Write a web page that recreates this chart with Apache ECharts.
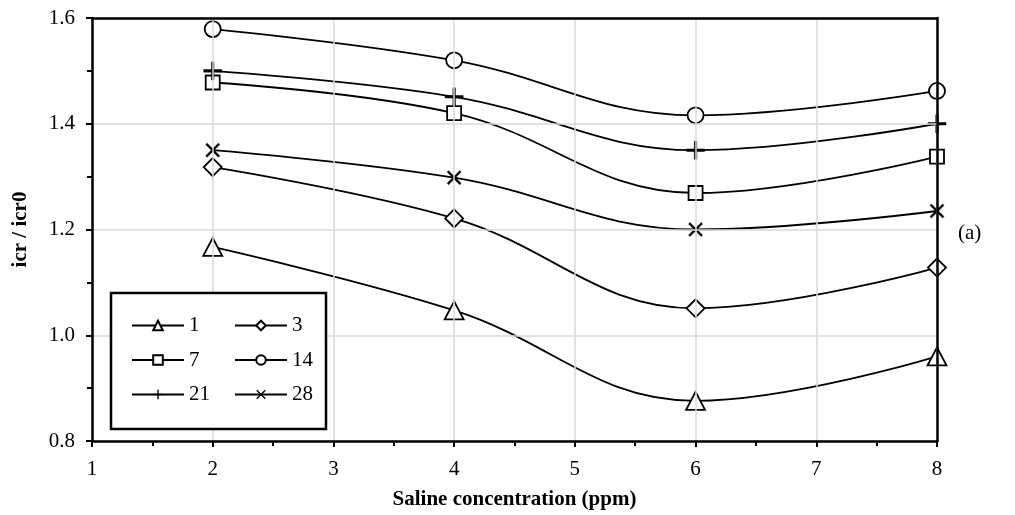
<!DOCTYPE html>
<html>
<head>
<meta charset="utf-8">
<title>icr / icr0</title>
<script src="https://cdn.jsdelivr.net/npm/echarts/dist/echarts.min.js"></script>
<style>
	html, body { margin:0; padding:0; background:#fff; }
	#main { width:1015px; height:515px; }
</style>
</head>
<body>
<div id="main"></div>
<script>
// data
var xVals = [2, 4, 6, 8];
var names = ['1', '3', '7', '14', '21', '28'];
var s1  = [1.167, 1.047, 0.876, 0.960];
var s3  = [1.318, 1.221, 1.051, 1.128];
var s7  = [1.478, 1.420, 1.269, 1.338];
var s14 = [1.579, 1.520, 1.416, 1.462];
var s21 = [1.500, 1.451, 1.350, 1.400];
var s28 = [1.350, 1.298, 1.200, 1.235];
var xTicks = [1, 8, 1];      // min, max, interval
var yTicks = [0.8, 1.6, 0.2];

var FONT = '"Liberation Serif", "Times New Roman", serif';

// hollow / cross markers
var plusPath = 'path://M4.3,0h1.4v10h-1.4zM0,4.3h10v1.4h-10z';
var crossPath = 'path://M0,1L1,0L10,9L9,10ZM9,0L10,1L1,10L0,9Z';

function pairs(ys){
	var out = [];
	for(var i = 0; i < xVals.length; i++){
		out.push([xVals[i], ys[i]]);
	}
	return out;
}

function mkSeries(name, ys, symbol, size, hollow){
	return {
		name: name,
		type: 'line',
		data: pairs(ys),
		smooth: 0.4,
		symbol: symbol,
		symbolSize: size,
		showAllSymbol: true,
		lineStyle: { color: '#000', width: 1.8 },
		itemStyle: hollow ?
			{ color: '#fff', borderColor: '#000', borderWidth: 1.8 } :
			{ color: '#000', borderColor: '#000', borderWidth: 0.5 },
		emphasis: { disabled: true },
		z: 2
	};
}

// plain axis used only as the top / right frame line
function frameAxis(pos, range){
	return {
		type: 'value',
		position: pos,
		min: range[0], max: range[1], interval: range[2],
		axisLine: { show: true, onZero: false, lineStyle: { color: '#000', width: 2.5 } },
		axisTick: { show: false },
		axisLabel: { show: false },
		splitLine: { show: false },
		z: 3
	};
}

var myChart = echarts.init(document.getElementById('main'), null, { renderer: 'canvas' });

var legendText = { fontFamily: FONT, fontSize: 21, color: '#000' };

option = {
	backgroundColor: '#fff',
	animation: false,
	textStyle: { fontFamily: FONT },
	grid: {
		left: 92, right: 78, top: 18, bottom: 74
	},
	// two columns for the legend
	legend: [
		{
			data: ['1', '7', { name: '21', itemStyle: { borderWidth: 0 } }],
			orient: 'vertical',
			left: 131, top: 315,
			padding: 0,
			itemWidth: 52, itemHeight: 12,
			itemGap: 13.5,
			textStyle: legendText,
			selectedMode: false,
			z: 6
		},
		{
			data: ['3', '14', { name: '28', itemStyle: { borderWidth: 0 } }],
			orient: 'vertical',
			left: 234, top: 315,
			padding: 0,
			itemWidth: 52, itemHeight: 12,
			itemGap: 13.5,
			textStyle: legendText,
			selectedMode: false,
			z: 6
		}
	],
	xAxis: [
		{
			type: 'value',
			min: xTicks[0], max: xTicks[1], interval: xTicks[2],
			name: 'Saline concentration (ppm)',
			nameLocation: 'middle',
			nameGap: 48,
			nameTextStyle: { fontFamily: FONT, fontSize: 21, fontWeight: 'bold', color: '#000' },
			axisLine: { show: true, onZero: false, lineStyle: { color: '#000', width: 2.5 } },
			axisTick: { show: true, inside: false, length: 6, lineStyle: { color: '#000', width: 2 } },
			minorTick: { show: true, splitNumber: 2, length: 5, lineStyle: { color: '#000', width: 2 } },
			axisLabel: { fontFamily: FONT, fontSize: 21, color: '#000', margin: 18 },
			splitLine: { show: true, lineStyle: { color: '#d9d9d9', width: 1.5 } },
			z: 3
		},
		frameAxis('top', xTicks)
	],
	yAxis: [
		{
			type: 'value',
			min: yTicks[0], max: yTicks[1], interval: yTicks[2],
			name: 'icr / icr0',
			nameLocation: 'middle',
			nameGap: 61,
			nameRotate: 90,
			nameTextStyle: { fontFamily: FONT, fontSize: 21, fontWeight: 'bold', color: '#000' },
			axisLine: { show: true, onZero: false, lineStyle: { color: '#000', width: 2.5 } },
			axisTick: { show: true, inside: false, length: 6, lineStyle: { color: '#000', width: 2 } },
			minorTick: { show: true, splitNumber: 2, length: 5, lineStyle: { color: '#000', width: 2 } },
			axisLabel: {
				fontFamily: FONT, fontSize: 21, color: '#000', margin: 17,
				formatter: function(v){ return v.toFixed(1); }
			},
			splitLine: { show: true, lineStyle: { color: '#d9d9d9', width: 1.5 } },
			z: 3
		},
		frameAxis('right', yTicks)
	],
	graphic: [
		// legend frame
		{
			type: 'rect',
			shape: { x: 111, y: 293, width: 215, height: 136 },
			style: { fill: '#fff', stroke: '#000', lineWidth: 2.5 },
			z: 4
		},
		{
			type: 'text',
			left: 958, top: 223,
			style: { text: '(a)', fontFamily: FONT, fontSize: 21, fill: '#000' },
			z: 4
		}
	],
	series: [
		mkSeries(names[0], s1, 'triangle', [19, 18], true),
		mkSeries(names[1], s3, 'diamond', 18, true),
		mkSeries(names[2], s7, 'rect', 14, true),
		mkSeries(names[3], s14, 'circle', 16, true),
		mkSeries(names[4], s21, plusPath, 18, false),
		mkSeries(names[5], s28, crossPath, 14, false)
	]
};

myChart.setOption(option);
</script>
</body>
</html>
